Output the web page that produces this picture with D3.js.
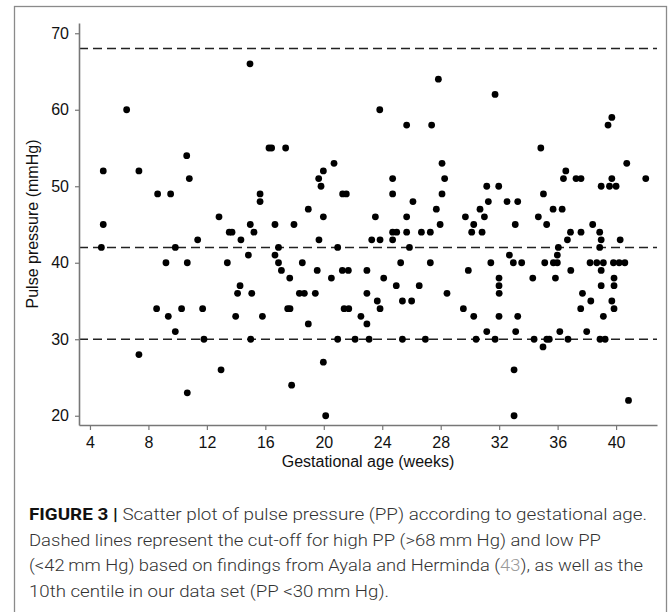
<!DOCTYPE html>
<html><head><meta charset="utf-8">
<script src="https://cdn.jsdelivr.net/npm/d3@7"></script>
<style>body{margin:0;background:#fff}svg{display:block}</style>
</head><body>
<svg id="chart" width="672" height="612"></svg>
<script>
// Gestational age (weeks) and pulse pressure (mmHg) for each subject
const gestAge = [
  14.95, 6.51, 16.25, 16.43, 10.62, 4.91, 7.35, 10.8, 8.63, 9.52, 15.64, 15.64, 12.83, 4.91, 14.97, 16.66, 13.53, 13.72, 15.22, 11.37, 14.33,
  4.78, 9.2, 9.84, 10.66, 13.4, 14.84, 16.66, 16.9, 16.9, 17.1, 14.27, 14.1, 15.07, 8.56, 10.27, 11.71, 9.36, 13.97, 15.8, 9.84, 11.8, 15.0, 7.35, 12.97, 10.66,
  27.84, 23.83, 25.67, 27.38, 17.39, 20.7, 28.09, 19.97, 19.65, 24.71, 28.27, 19.81, 21.29, 21.54, 24.71, 28.09, 26.1, 18.94, 27.7, 19.97, 23.53, 25.67, 27.96, 17.96, 24.71, 24.99, 25.67, 26.68, 27.29, 19.67, 23.28, 23.85, 24.71,
  20.95, 25.86, 18.53, 25.26, 27.29, 19.55, 21.27, 21.68, 22.95, 17.67, 20.52, 24.1, 24.96, 26.53, 18.33, 18.67, 19.42, 22.95, 28.43, 23.66, 25.38, 26.01, 17.53, 17.69, 21.39, 21.71, 23.85, 22.54, 18.94, 22.95, 20.95, 22.14, 23.1, 25.38, 26.95, 19.97, 17.8, 20.13,
  31.72, 39.71, 39.45, 34.85, 40.73, 36.56, 36.4, 37.26, 37.6, 39.71, 42.03, 31.15, 31.97, 38.98, 39.55, 40.0, 35.03, 31.26, 32.54, 33.27, 30.69, 35.69, 36.31, 29.69, 30.99, 34.68, 30.26, 33.1, 35.25, 38.4, 30.12, 30.83, 36.88, 37.6, 38.88, 36.67, 38.98, 40.28,
  36.05, 38.88, 32.7, 35.98, 31.43, 32.97, 33.54, 35.12, 35.71, 35.98, 38.22, 38.68, 39.13, 39.82, 40.21, 40.6, 29.89, 36.9, 38.98, 31.99, 34.3, 35.85, 39.86, 31.99, 38.98, 39.86, 32.0, 37.7, 38.27, 39.71, 29.55, 37.58, 39.86, 30.26, 31.99, 33.27, 39.13, 31.15, 33.13, 36.15, 37.99, 30.42, 31.72, 34.39, 35.26, 35.43, 36.71, 38.9, 39.25, 35.0, 33.02, 40.85, 33.02
];
const pulsePressure = [
  66, 60, 55, 55, 54, 52, 52, 51, 49, 49, 49, 48, 46, 45, 45, 45, 44, 44, 44, 43, 43,
  42, 40, 42, 40, 40, 41, 41, 42, 40, 39, 37, 36, 36, 34, 34, 34, 33, 33, 33, 31, 30, 30, 28, 26, 23,
  64, 60, 58, 58, 55, 53, 53, 52, 51, 51, 51, 50, 49, 49, 49, 49, 48, 47, 47, 46, 46, 46, 45, 45, 44, 44, 44, 44, 44, 43, 43, 43, 43,
  42, 42, 40, 40, 40, 39, 39, 39, 39, 38, 38, 38, 37, 37, 36, 36, 36, 36, 36, 35, 35, 35, 34, 34, 34, 34, 34, 33, 32, 32, 30, 30, 30, 30, 30, 27, 24, 20,
  62, 59, 58, 55, 53, 52, 51, 51, 51, 51, 51, 50, 50, 50, 50, 50, 49, 48, 48, 48, 47, 47, 47, 46, 46, 46, 45, 45, 45, 45, 44, 44, 44, 44, 44, 43, 43, 43,
  42, 42, 41, 41, 40, 40, 40, 40, 40, 40, 40, 40, 40, 40, 40, 40, 39, 39, 39, 38, 38, 38, 38, 37, 37, 37, 36, 36, 35, 35, 34, 34, 34, 33, 33, 33, 33, 31, 31, 31, 31, 30, 30, 30, 30, 30, 30, 30, 30, 29, 26, 22, 20
];
const xTicks = [4, 8, 12, 16, 20, 24, 28, 32, 36, 40];
const yTicks = [20, 30, 40, 50, 60, 70];
const cutoffs = [68, 42, 30];
const xTitle = "Gestational age (weeks)";
const yTitle = "Pulse pressure (mmHg)";
const captionLines = [
  [{t: "FIGURE 3 | ", b: true}, {t: "Scatter plot of pulse pressure (PP) according to gestational age."}],
  [{t: "Dashed lines represent the cut-off for high PP (>68\u2009mm Hg) and low PP"}],
  [{t: "(<42\u2009mm Hg) based on findings from Ayala and Herminda ("}, {t: "43", ref: true}, {t: "), as well as the"}],
  [{t: "10th centile in our data set (PP <30\u2009mm Hg)."}]
];
const captionWidths = [618, 572, 614, 360];

const svg = d3.select("#chart");
const font = "'Liberation Sans', Arial, Helvetica, sans-serif";

// outer frame
svg.append("rect").attr("x", 14.5).attr("y", 6.5).attr("width", 652).attr("height", 620)
  .attr("fill", "none").attr("stroke", "#8a8a8a").attr("stroke-width", 1.3);

const x = d3.scaleLinear().domain([3.25, 42.8]).range([79, 657]);
const y = d3.scaleLinear().domain([18.79, 71.34]).range([425, 23]);

// cut-off lines
svg.append("g").selectAll("line").data(cutoffs).join("line")
  .attr("x1", x.range()[0]).attr("x2", x.range()[1])
  .attr("y1", d => y(d)).attr("y2", d => y(d))
  .attr("stroke", "#222").attr("stroke-width", 1.6).attr("stroke-dasharray", "9,5");

// axes
const yAxis = svg.append("g").attr("transform", `translate(${x.range()[0]},0)`)
  .call(d3.axisLeft(y).tickValues(yTicks).tickSize(4).tickSizeOuter(0).tickPadding(6));
const xAxis = svg.append("g").attr("transform", `translate(0,${y.range()[0]})`)
  .call(d3.axisBottom(x).tickValues(xTicks).tickSize(5).tickSizeOuter(0).tickPadding(7));
[yAxis, xAxis].forEach(g => {
  g.select(".domain").attr("stroke", "#777").attr("stroke-width", 1.6);
  g.selectAll(".tick line").attr("stroke", "#777").attr("stroke-width", 1.2);
  g.selectAll(".tick text").attr("fill", "#111").style("font-family", font).style("font-size", "16px");
});

// points
svg.append("g").selectAll("circle").data(gestAge.map((g, i) => [g, pulsePressure[i]])).join("circle")
  .attr("cx", d => x(d[0])).attr("cy", d => y(d[1])).attr("r", 3.4).attr("fill", "#000");

// axis titles
svg.append("text").attr("x", (x.range()[0] + x.range()[1]) / 2).attr("y", 467)
  .attr("text-anchor", "middle").attr("fill", "#111")
  .style("font-family", font).style("font-size", "16px").text(xTitle);
svg.append("text").attr("transform", `translate(38,${(y.range()[0] + y.range()[1]) / 2}) rotate(-90)`)
  .attr("text-anchor", "middle").attr("fill", "#111")
  .style("font-family", font).style("font-size", "16px").text(yTitle);

// caption
const cap = svg.append("g");
captionLines.forEach((line, i) => {
  const t = cap.append("text").attr("x", 29).attr("y", 520 + i * 25.7)
    .attr("textLength", captionWidths[i]).attr("lengthAdjust", "spacingAndGlyphs")
    .style("font-family", "Roboto, 'Liberation Sans', sans-serif").style("font-size", "17px")
    .style("font-weight", 300).attr("fill", "#333");
  line.forEach(s => {
    t.append("tspan").text(s.t)
      .style("font-weight", s.b ? 700 : 300)
      .attr("fill", s.b ? "#111" : (s.ref ? "#999" : "#333"));
  });
});
</script>
</body></html>
